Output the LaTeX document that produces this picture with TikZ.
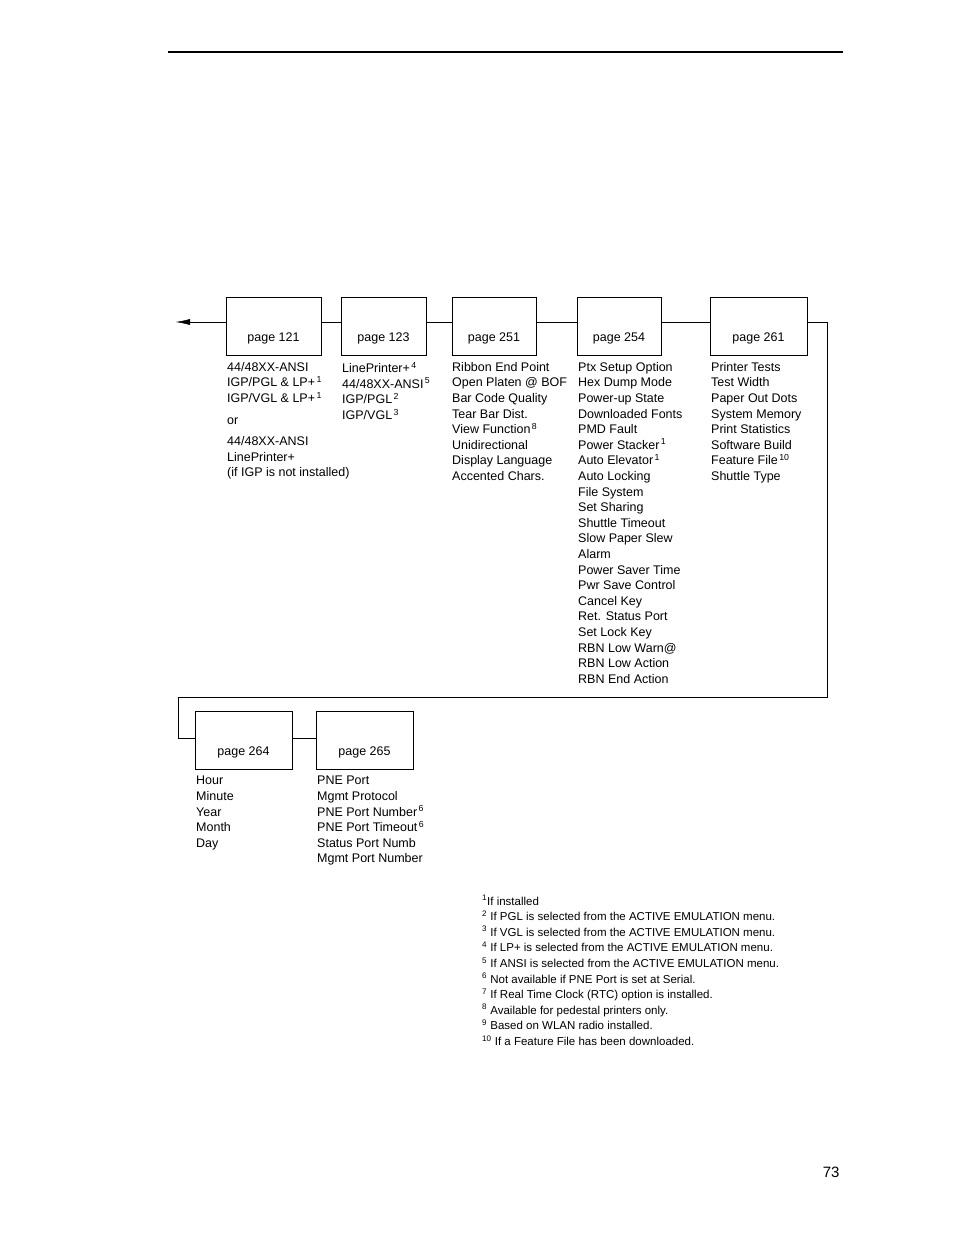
\documentclass[tikz,border=0pt]{standalone}
\usepackage{fontspec}
\setmainfont{Liberation Sans}
\usetikzlibrary{positioning,arrows.meta}
\tikzset{
  pagebox/.style={draw,minimum height=58pt,text depth=0pt},
  plist/.style={anchor=north west,align=left,inner sep=0pt,font=\fontsize{12.5}{15.6}\selectfont},
  link/.style={thin}
}
\newcommand{\fn}[1]{\textsuperscript{\,#1}}
\begin{document}
\begin{tikzpicture}[x=1pt,y=-1pt,font=\fontsize{12.5}{15.6}\selectfont]
        \useasboundingbox (0,0) rectangle (954,1235);
        %% Rule and page number
        \draw[line width=1.5pt] (168,52) -- (843,52);
        \node[anchor=base east] (pg) at (843,1177) {\fontsize{15}{18}\selectfont 73};
        %% Top row
        \node[pagebox,minimum width=95pt] (p121) at (273.5,326) {};
        \node[pagebox,minimum width=85pt] (p123) at (383.5,326) {};
        \node[pagebox,minimum width=84pt] (p251) at (494,326) {};
        \node[pagebox,minimum width=84pt] (p254) at (619,326) {};
        \node[pagebox,minimum width=97pt] (p261) at (758.5,326) {};
        \foreach \b/\t in {p121/121,p123/123,p251/251,p254/254,p261/261}
          \node at ([yshift=-12pt]\b.center) {page \t};
        %% Bottom row
        \node[pagebox,minimum width=97pt] (p264) at (243.5,740) {};
        \node[pagebox,minimum width=97pt] (p265) at (364.5,740) {};
        \foreach \b/\t in {p264/264,p265/265}
          \node at ([yshift=-12pt]\b.center) {page \t};
        %% Connectors
        \coordinate (out) at (176,322);
        \draw[link,-{Latex[length=14pt,width=6pt]}] (p121.west |- 0,322) -- (out);
        \draw[link] (p121.east |- 0,322) -- (p123.west |- 0,322);
        \draw[link] (p123.east |- 0,322) -- (p251.west |- 0,322);
        \draw[link] (p251.east |- 0,322) -- (p254.west |- 0,322);
        \draw[link] (p254.east |- 0,322) -- (p261.west |- 0,322);
        \draw[link] (p261.east |- 0,322) -- (827,322) -- (827,697) -- (178,697) -- (178,738) -- (p264.west |- 0,738);
        \draw[link] (p264.east |- 0,738) -- (p265.west |- 0,738);
        %% Lists
        \node[plist] (l121) at (227,362) {44/48XX-ANSI\\IGP/PGL \& LP+\fn{1}\\IGP/VGL \& LP+\fn{1}\\[6pt]or\\[6pt]44/48XX-ANSI\\LinePrinter+\\(if IGP is not installed)};
        \node[plist] (l123) at (342,362) {LinePrinter+\fn{4}\\44/48XX-ANSI\fn{5}\\IGP/PGL\fn{2}\\IGP/VGL\fn{3}};
        \node[plist] (l251) at (452,362) {Ribbon End Point\\Open Platen @ BOF\\Bar Code Quality\\Tear Bar Dist.\\View Function\fn{8}\\Unidirectional\\Display Language\\Accented Chars.};
        \node[plist] (l254) at (578,362) {Ptx Setup Option\\Hex Dump Mode\\Power-up State\\Downloaded Fonts\\PMD Fault\\Power Stacker\fn{1}\\Auto Elevator\fn{1}\\Auto Locking\\File System\\Set Sharing\\Shuttle Timeout\\Slow Paper Slew\\Alarm\\Power Saver Time\\Pwr Save Control\\Cancel Key\\Ret. Status Port\\Set Lock Key\\RBN Low Warn@\\RBN Low Action\\RBN End Action};
        \node[plist] (l261) at (711,362) {Printer Tests\\Test Width\\Paper Out Dots\\System Memory\\Print Statistics\\Software Build\\Feature File\fn{10}\\Shuttle Type};
        \node[plist] (l264) at (196,776) {Hour\\Minute\\Year\\Month\\Day};
        \node[plist] (l265) at (317,776) {PNE Port\\Mgmt Protocol\\PNE Port Number\fn{6}\\PNE Port Timeout\fn{6}\\Status Port Numb\\Mgmt Port Number};
        %% Footnotes
        \node[plist,font=\fontsize{11.5}{15.6}\selectfont] (notes) at (482,895) {\textsuperscript{1}If installed\\
          \textsuperscript{2} If PGL is selected from the ACTIVE EMULATION menu.\\
          \textsuperscript{3} If VGL is selected from the ACTIVE EMULATION menu.\\
          \textsuperscript{4} If LP+ is selected from the ACTIVE EMULATION menu.\\
          \textsuperscript{5} If ANSI is selected from the ACTIVE EMULATION menu.\\
          \textsuperscript{6} Not available if PNE Port is set at Serial.\\
          \textsuperscript{7} If Real Time Clock (RTC) option is installed.\\
          \textsuperscript{8} Available for pedestal printers only.\\
          \textsuperscript{9} Based on WLAN radio installed.\\
          \textsuperscript{10} If a Feature File has been downloaded.};
    \end{tikzpicture}
\end{document}
